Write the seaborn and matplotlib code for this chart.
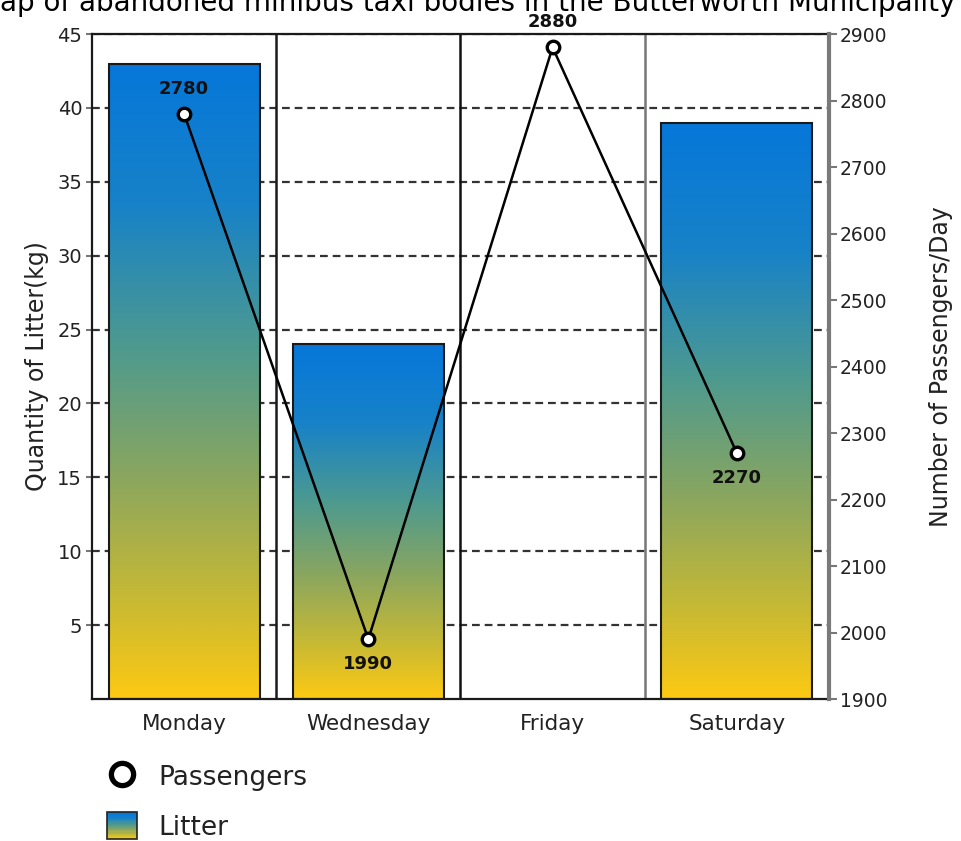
import numpy as np
import pandas as pd
import matplotlib
matplotlib.use("Agg")
import matplotlib.pyplot as plt
import seaborn as sns
from matplotlib.colors import LinearSegmentedColormap
from matplotlib.legend_handler import HandlerBase
from matplotlib.patches import Rectangle
from matplotlib.lines import Line2D

# ---- data -------------------------------------------------------------
days = ["Monday", "Wednesday", "Friday", "Saturday"]
litter_kg = [43, 24, 0, 39]
passengers = [2780, 1990, 2880, 2270]
label_side = ["above", "below", "above", "below"]
litter_ticks = [5, 10, 15, 20, 25, 30, 35, 40, 45]
passenger_ticks = [1900, 2000, 2100, 2200, 2300, 2400, 2500, 2600, 2700, 2800, 2900]

title = "Map of abandoned minibus taxi bodies in the Butterworth Municipality"

# ---- style ------------------------------------------------------------
sns.set_theme(style="white")
plt.rcParams["font.family"] = ["DejaVu Sans"]

litter_cmap = LinearSegmentedColormap.from_list(
    "litter",
    [(0.0, "#fdc913"), (0.15, "#c9ba33"), (0.35, "#8aa65f"),
     (0.55, "#4f9a8e"), (0.78, "#1782c8"), (1.0, "#0677da")],
)

fig = plt.figure(figsize=(9.62, 8.41), dpi=100)
ax = fig.add_axes([0.0956, 0.1688, 0.7661, 0.7907])

# ---- bars (litter) ----------------------------------------------------
df = pd.DataFrame({"day": days, "litter": litter_kg})
sns.barplot(data=df, x="day", y="litter", order=days, ax=ax, width=0.82,
            color="white", edgecolor="#1a1a1a", linewidth=1.5, zorder=2)

grad = np.linspace(0, 1, 256).reshape(-1, 1)
for patch in list(ax.patches):
    h = patch.get_height()
    if h <= 0:
        patch.set_visible(False)
        continue
    x0, y0, w = patch.get_x(), patch.get_y(), patch.get_width()
    im = ax.imshow(grad, extent=[x0, x0 + w, y0, y0 + h], origin="lower",
                   aspect="auto", cmap=litter_cmap, zorder=2.1,
                   interpolation="bilinear")
    im.set_clip_path(patch)
    patch.set_facecolor("none")
    patch.set_zorder(2.2)

ax.set_xlim(-0.5, len(days) - 0.5)
ax.set_ylim(0, 45)
ax.set_yticks(litter_ticks)
ax.set_xticks(range(len(days)), days)
ax.set_xlabel("")
ax.set_ylabel("Quantity of Litter(kg)", fontsize=17, color="#222222", labelpad=6)

# dashed horizontal guides and solid day separators
ax.grid(True, axis="y", linestyle=(0, (3.5, 2.2)), linewidth=1.6, color="#333333")
ax.grid(False, axis="x")
ax.set_axisbelow(True)
sep_colors = ["#1a1a1a", "#111111", "#777777"]
for i, c in enumerate(sep_colors):
    ax.axvline(i + 0.5, color=c, linewidth=1.8, zorder=1.5)

ax.tick_params(axis="y", left=True, direction="out", length=4, width=1.5,
               color="#777777", labelsize=14, labelcolor="#222222", pad=3)
ax.tick_params(axis="x", bottom=False, labelsize=15.5, labelcolor="#222222", pad=5)
for side in ["left", "top", "bottom"]:
    ax.spines[side].set_color("#1a1a1a")
    ax.spines[side].set_linewidth(1.6)
ax.spines["right"].set_visible(False)

# ---- line (passengers) ------------------------------------------------
ax2 = ax.twinx()
sns.lineplot(x=np.arange(len(days)), y=passengers, ax=ax2, sort=False,
             color="black", linewidth=1.8, marker="o", markersize=9,
             markerfacecolor="white", markeredgecolor="black",
             markeredgewidth=2.4, zorder=5)
ax2.set_ylim(1900, 2900)
ax2.set_yticks(passenger_ticks)
ax2.set_ylabel("Number of Passengers/Day", fontsize=17, color="#222222", labelpad=30)
ax2.tick_params(axis="y", right=True, direction="out", length=6, width=1.5,
                color="#777777", labelsize=13.5, labelcolor="#222222", pad=2)
for side in ["left", "top", "bottom"]:
    ax2.spines[side].set_visible(False)
ax2.spines["right"].set_color("#7a7a7a")
ax2.spines["right"].set_linewidth(3)

for i, (v, side) in enumerate(zip(passengers, label_side)):
    dy = 18 if side == "above" else -18
    ax2.annotate(f"{v}", (i, v), xytext=(0, dy), textcoords="offset points",
                 ha="center", va="center", fontsize=13, fontweight="bold",
                 color="#111111", annotation_clip=False)

ax.set_xlim(-0.5, len(days) - 0.5)

# ---- title (runs past the figure edge) --------------------------------
fig.text(-0.025, 0.9870, title, fontsize=20, ha="left", va="baseline",
         color="black")


# ---- legend -------------------------------------------------------------
class GradientHandler(HandlerBase):
    def create_artists(self, legend, orig_handle, xdescent, ydescent,
                       width, height, fontsize, trans):
        n = 24
        artists = []
        for k in range(n):
            r = Rectangle((-xdescent, -ydescent + height * k / n), width,
                          height / n + 0.2, facecolor=litter_cmap(k / (n - 1)),
                          edgecolor="none", transform=trans)
            artists.append(r)
        artists.append(Rectangle((-xdescent, -ydescent), width, height,
                                 facecolor="none", edgecolor="#222222",
                                 linewidth=1.2, transform=trans))
        return artists


pass_handle = Line2D([], [], marker="o", linestyle="none", markersize=16,
                     markerfacecolor="white", markeredgecolor="black",
                     markeredgewidth=3.8)
litter_handle = Rectangle((0, 0), 1, 1)
fig.legend([pass_handle, litter_handle], ["Passengers", "Litter"],
           handler_map={Rectangle: GradientHandler()},
           loc="upper left", bbox_to_anchor=(0.111, 0.093), frameon=False,
           fontsize=19, handlelength=1.14, handleheight=1.2,
           handletextpad=0.83, labelspacing=0.8, borderpad=0,
           borderaxespad=0, labelcolor="#222222")

fig.savefig("out.png", dpi=100)
